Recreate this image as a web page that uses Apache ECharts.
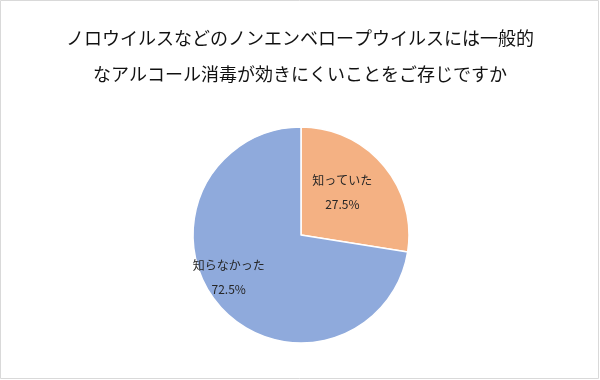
<!DOCTYPE html>
<html>
<head>
<meta charset="utf-8">
<script src="https://cdn.jsdelivr.net/npm/echarts@6/dist/echarts.min.js"></script>
<style>html,body{margin:0;padding:0;background:#fff;}#c{width:600px;height:380px;}</style>
</head>
<body>
<div id="c"></div>
<script>
const titleLines = ['ノロウイルスなどのノンエンベロープウイルスには一般的', 'なアルコール消毒が効きにくいことをご存じですか'];
const categories = ['知っていた', '知らなかった'];
const values = [27.5, 72.5];
const colors = ['#F4B183', '#8FAADC'];

const chart = echarts.init(document.getElementById('c'), null, {renderer: 'canvas'});
chart.setOption({
  backgroundColor: '#fff',
  animation: false,
  title: {
    text: titleLines.join('\n'),
    left: 'center',
    top: 15,
    textStyle: {fontFamily: 'Noto Sans CJK JP', fontSize: 18, fontWeight: 'normal', color: '#111', lineHeight: 36}
  },
  graphic: [{
    type: 'rect',
    shape: {x: 0.5, y: 0.5, width: 598, height: 378},
    style: {fill: 'none', stroke: '#d9d9d9', lineWidth: 1}
  }],
  series: [{
    type: 'pie',
    center: [301, 235],
    radius: 108,
    startAngle: 90,
    clockwise: true,
    itemStyle: {borderColor: '#fff', borderWidth: 1.5},
    label: {
      position: 'inside',
      formatter: p => p.name + '\n' + p.value.toFixed(1) + '%',
      fontFamily: 'Noto Sans CJK JP',
      fontSize: 12,
      lineHeight: 24,
      color: '#262626'
    },
    labelLayout: p => p.dataIndex === 1 ? {dx: -29, dy: 5} : {dx: -2, dy: -6},
    data: categories.map((n, i) => ({name: n, value: values[i], itemStyle: {color: colors[i]}}))
  }]
});
</script>
</body>
</html>
